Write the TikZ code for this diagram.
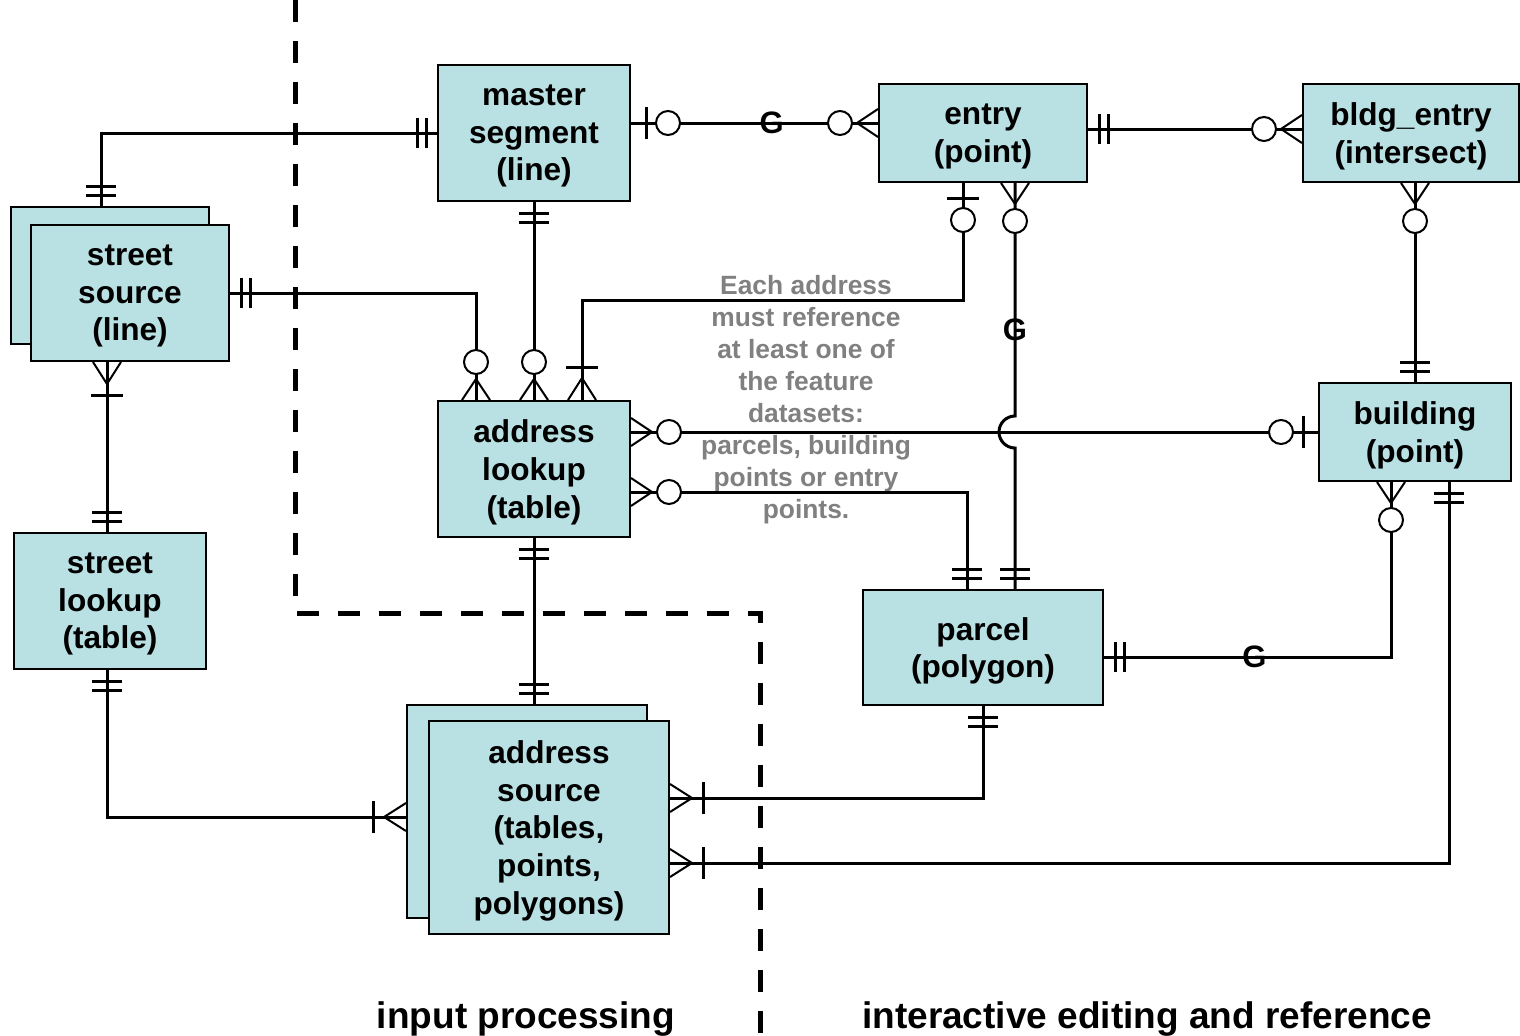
\documentclass[tikz,border=0pt]{standalone}
\usepackage{fontspec}
\setmainfont{Liberation Sans}
\usetikzlibrary{calc,positioning}
\definecolor{entityfill}{RGB}{185,224,227}
\definecolor{notegray}{RGB}{128,128,128}

\begin{document}
\begin{tikzpicture}[
    x=0.5pt, y=-0.5pt,
    entity/.style={
        rectangle,
        draw=black,
        line width=1pt,
        fill=entityfill,
        text centered,
        align=center,
        inner sep=0pt,
        text depth=-5pt,
        font=\fontsize{15.8}{18.8}\selectfont\bfseries
    },
    conn/.style={line width=1.5pt},
    glabel/.style={font=\fontsize{15.5}{17}\selectfont\bfseries, inner sep=0pt},
    note/.style={
        align=center,
        text=notegray,
        font=\fontsize{13.2}{16}\selectfont\bfseries
    },
    region/.style={font=\fontsize{18.5}{22}\selectfont\bfseries},
    boundary/.style={line width=2.5pt, dash pattern=on 11pt off 9.5pt},
    bar/.style={line width=1.5pt},
    foot/.style={line width=1pt},
    ring/.style={line width=1pt, fill=white},
    mandone/.pic={
        \draw[bar] (11,-15) -- (11,15) (20,-15) -- (20,15);
    },
    zeroone/.pic={
        \draw[bar] (15,-16) -- (15,16);
        \draw[ring] (37,0) circle[radius=12];
    },
    zeromany/.pic={
        \draw[foot] (0,-14) -- (21,0) -- (0,14);
        \draw[ring] (38,0) circle[radius=12];
    },
    onemany/.pic={
        \draw[foot] (0,-14) -- (22,0) -- (0,14);
        \draw[bar] (33,-16) -- (33,16);
    }
  ]

\useasboundingbox (0,0) rectangle (1520,1035);

% // region boundary
\draw[boundary] (295,0) -- (295,613) -- (760,613) -- (760,1035);

% // entities
\node[entity, minimum width=96pt, minimum height=68pt] (master) at (534,133) {master\\segment\\(line)};
\node[entity, minimum width=104pt, minimum height=49pt] (entry) at (983,133) {entry\\(point)};
\node[entity, minimum width=108pt, minimum height=49pt] (bldgentry) at (1411,133) {bldg\_entry\\(intersect)};
\node[entity, minimum width=99pt, minimum height=68.5pt] (ssback) at (110,275.5) {};
\node[entity, minimum width=99pt, minimum height=68pt] (ssource) at (130,293) {street\\source\\(line)};
\node[entity, minimum width=96pt, minimum height=68pt] (lookup) at (534,469) {address\\lookup\\(table)};
\node[entity, minimum width=96pt, minimum height=49pt] (building) at (1415,432) {building\\(point)};
\node[entity, minimum width=96pt, minimum height=68pt] (slookup) at (110,601) {street\\lookup\\(table)};
\node[entity, minimum width=120pt, minimum height=57.5pt] (parcel) at (983,647.5) {parcel\\(polygon)};
\node[entity, minimum width=120pt, minimum height=106.5pt] (asback) at (527,811.5) {};
\node[entity, minimum width=120pt, minimum height=106.5pt] (asource) at (549,827.5) {address\\source\\(tables,\\points,\\polygons)};

% // note and regions
\node[note] (rule) at (806,400) {Each address\\must reference\\at least one of\\the feature\\datasets:\\parcels, building\\points or entry\\points.};
\node[region] (inproc) at (526,1019) {input processing};
\node[region] (interact) at (1147,1019) {interactive editing and reference};

% // connection points
\coordinate (ms-e) at ($(master.east)+(0,-10)$);
\coordinate (en-w) at ($(entry.west)+(0,-10)$);
\coordinate (ss-n) at ($(ssback.north)+(-9,0)$);
\coordinate (lk-a) at ($(lookup.north)+(-58,0)$);
\coordinate (lk-c) at ($(lookup.north)+(48,0)$);
\coordinate (en-a) at ($(entry.south)+(-20,0)$);
\coordinate (en-p) at ($(entry.south)+(32,0)$);
\coordinate (pc-p) at ($(parcel.north)+(32,0)$);
\coordinate (pc-a) at ($(parcel.north)+(-16,0)$);
\coordinate (lk-b) at ($(lookup.east)+(0,-37)$);
\coordinate (lk-d) at ($(lookup.east)+(0,23)$);
\coordinate (hop) at (en-p |- lk-b);
\coordinate (be-s) at ($(bldgentry.south)+(4,0)$);
\coordinate (en-e) at ($(entry.east)+(0,-4)$);
\coordinate (be-w) at ($(bldgentry.west)+(0,-4)$);
\coordinate (ss-s) at ($(ssource.south)+(-23,0)$);
\coordinate (sl-n) at ($(slookup.north)+(-3,0)$);
\coordinate (sl-s) at ($(slookup.south)+(-3,0)$);
\coordinate (as-w) at ($(asback.west)+(0,5.5)$);
\coordinate (as-n) at ($(asback.north)+(7,0)$);
\coordinate (as-a) at ($(asource.east)+(0,-29.5)$);
\coordinate (as-b) at ($(asource.east)+(0,35.5)$);
\coordinate (bd-a) at ($(building.south)+(-24,0)$);
\coordinate (bd-b) at ($(building.south)+(34,0)$);
\coordinate (pc-e) at ($(parcel.east)+(0,9.5)$);

% // connectors
\draw[conn] (master.west) -| (ss-n);
\draw[conn] (ms-e) -- node[glabel, pos=0.57] {G} (en-w);
\draw[conn] (master.south) -- (lookup.north);
\draw[conn] (ssource.east) -| (lk-a);
\draw[conn] (en-a) -- ++(0,117) -| (lk-c);
\draw[conn] (en-p) -- node[glabel, pos=0.63] {G} ([yshift=8pt]hop)
    arc[start angle=-90, end angle=-270, radius=16] -- (pc-p);
\draw[conn] (lk-b) -- (building.west);
\draw[conn] (lk-d) -| (pc-a);
\draw[conn] (be-s) -- (building.north);
\draw[conn] (en-e) -- (be-w);
\draw[conn] (ss-s) -- (sl-n);
\draw[conn] (sl-s) |- (as-w);
\draw[conn] (lookup.south) -- (as-n);
\draw[conn] (parcel.south) |- (as-a);
\draw[conn] (bd-a) |- node[glabel, pos=0.738] {G} (pc-e);
\draw[conn] (bd-b) |- (as-b);

% // cardinality marks
\pic[rotate=180] at (master.west) {mandone};
\pic[rotate=90] at (ss-n) {mandone};
\pic at (ms-e) {zeroone};
\pic[rotate=180] at (en-w) {zeromany};
\pic[rotate=-90] at (master.south) {mandone};
\pic[rotate=90] at (lookup.north) {zeromany};
\pic at (ssource.east) {mandone};
\pic[rotate=90] at (lk-a) {zeromany};
\pic[rotate=-90] at (en-a) {zeroone};
\pic[rotate=90] at (lk-c) {onemany};
\pic[rotate=-90] at (en-p) {zeromany};
\pic[rotate=90] at (pc-p) {mandone};
\pic at (lk-b) {zeromany};
\pic[rotate=180] at (building.west) {zeroone};
\pic at (lk-d) {zeromany};
\pic[rotate=90] at (pc-a) {mandone};
\pic[rotate=-90] at (be-s) {zeromany};
\pic[rotate=90] at (building.north) {mandone};
\pic at (en-e) {mandone};
\pic[rotate=180] at (be-w) {zeromany};
\pic[rotate=-90] at (ss-s) {onemany};
\pic[rotate=90] at (sl-n) {mandone};
\pic[rotate=-90] at (sl-s) {mandone};
\pic[rotate=180] at (as-w) {onemany};
\pic[rotate=-90] at (lookup.south) {mandone};
\pic[rotate=90] at (as-n) {mandone};
\pic[rotate=-90] at (parcel.south) {mandone};
\pic at (as-a) {onemany};
\pic[rotate=-90] at (bd-a) {zeromany};
\pic at (pc-e) {mandone};
\pic[rotate=-90] at (bd-b) {mandone};
\pic at (as-b) {onemany};

\end{tikzpicture}
\end{document}
